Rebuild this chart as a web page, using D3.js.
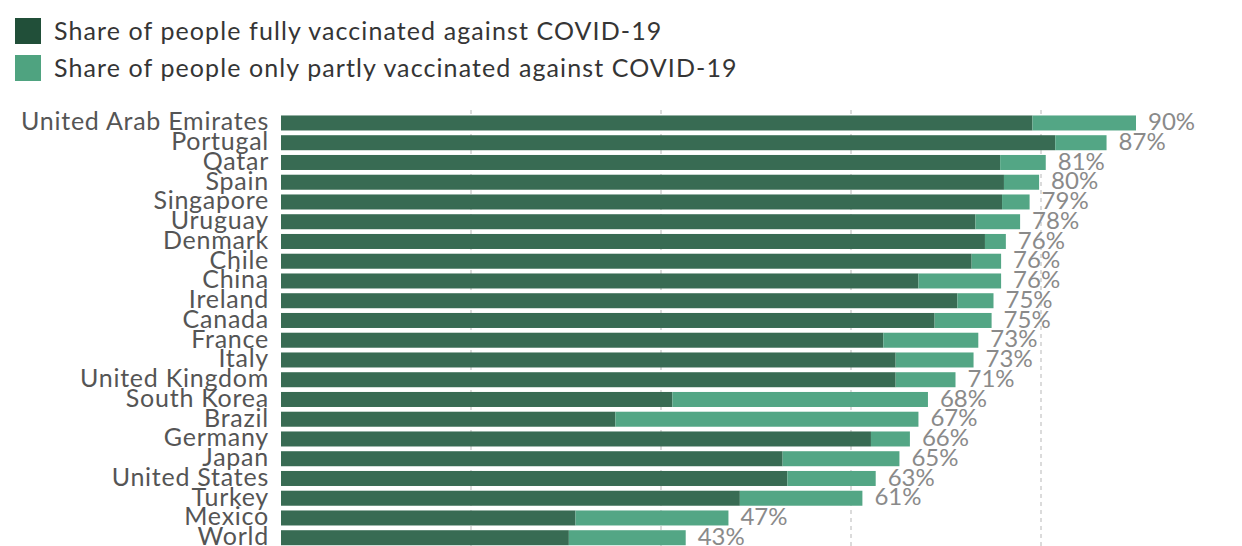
<!DOCTYPE html>
<html>
<head>
<meta charset="utf-8">
<script src="https://cdn.jsdelivr.net/npm/d3@7"></script>
<style>
  html, body { margin: 0; padding: 0; background: #fff; }
  svg { display: block; font-family: Lato, "Open Sans", sans-serif; }
</style>
</head>
<body>
<svg id="chart" width="1242" height="546"></svg>
<script>
var countries = ['United Arab Emirates', 'Portugal', 'Qatar', 'Spain', 'Singapore', 'Uruguay',
  'Denmark', 'Chile', 'China', 'Ireland', 'Canada', 'France', 'Italy', 'United Kingdom',
  'South Korea', 'Brazil', 'Germany', 'Japan', 'United States', 'Turkey', 'Mexico', 'World'];
var fullyVaccinated = [79.1, 81.5, 75.7, 76.1, 75.9, 73.1, 74.1, 72.7, 67.1, 71.2, 68.8,
  63.4, 64.7, 64.7, 41.2, 35.2, 62.1, 52.8, 53.3, 48.3, 31.0, 30.3];
var partlyVaccinated = [10.9, 5.4, 4.8, 3.7, 2.9, 4.7, 2.2, 3.1, 8.7, 3.8, 6.0,
  10.0, 8.2, 6.3, 26.9, 31.9, 4.1, 12.3, 9.3, 12.9, 16.1, 12.3];
var seriesNames = ['Share of people fully vaccinated against COVID-19',
  'Share of people only partly vaccinated against COVID-19'];
var gridTicks = [20, 40, 60, 80];

var barColors = ['#386b53', '#53a685'];
var legendColors = ['#214f39', '#4fa380'];

var svg = d3.select('#chart');

var x = d3.scaleLinear().domain([0, 100]).range([281, 1231]);
var y = d3.scaleBand().domain(countries).range([113.1, 113.1 + 22 * 19.75])
    .paddingInner(0.24).paddingOuter(0.12);

var rows = countries.map(function(c, i) {
  return {country: c, fully: fullyVaccinated[i], partly: partlyVaccinated[i]};
});
var stacked = d3.stack().keys(['fully', 'partly'])(rows);

// legend
var legend = svg.append('g').selectAll('g').data(seriesNames).enter().append('g')
    .attr('transform', function(d, i) { return 'translate(15,' + (18 + i * 37) + ')'; });
legend.append('rect')
    .attr('width', 26).attr('height', 26)
    .attr('fill', function(d, i) { return legendColors[i]; });
legend.append('text')
    .attr('x', 39).attr('y', 13).attr('dy', '0.36em')
    .attr('font-size', 25).attr('letter-spacing', 1.1).attr('fill', '#353535')
    .text(function(d) { return d; });

// dashed grid lines behind the bars
svg.append('g').selectAll('line').data(gridTicks).enter().append('line')
    .attr('x1', function(d) { return x(d); })
    .attr('x2', function(d) { return x(d); })
    .attr('y1', 110).attr('y2', 546)
    .attr('stroke', '#cfcfcf').attr('stroke-width', 1.5)
    .attr('stroke-dasharray', '4,4');

// stacked bars
svg.append('g').selectAll('g').data(stacked).enter().append('g')
    .attr('fill', function(d, i) { return barColors[i]; })
    .selectAll('rect').data(function(d) { return d; }).enter().append('rect')
    .attr('x', function(d) { return x(d[0]); })
    .attr('y', function(d) { return y(d.data.country); })
    .attr('width', function(d) { return x(d[1]) - x(d[0]); })
    .attr('height', y.bandwidth());

// country labels
svg.append('g').selectAll('text').data(rows).enter().append('text')
    .attr('x', 269)
    .attr('y', function(d) { return y(d.country) + y.bandwidth() / 2; })
    .attr('dy', '0.3em')
    .attr('text-anchor', 'end')
    .attr('font-size', 25).attr('letter-spacing', 0.75).attr('fill', '#555')
    .text(function(d) { return d.country; });

// total labels
svg.append('g').selectAll('text').data(rows).enter().append('text')
    .attr('x', function(d) { return x(d.fully + d.partly) + 12; })
    .attr('y', function(d) { return y(d.country) + y.bandwidth() / 2; })
    .attr('dy', '0.3em')
    .attr('font-size', 24).attr('fill', '#8a8a8a')
    .text(function(d) { return Math.round(d.fully + d.partly) + '%'; });
</script>
</body>
</html>
